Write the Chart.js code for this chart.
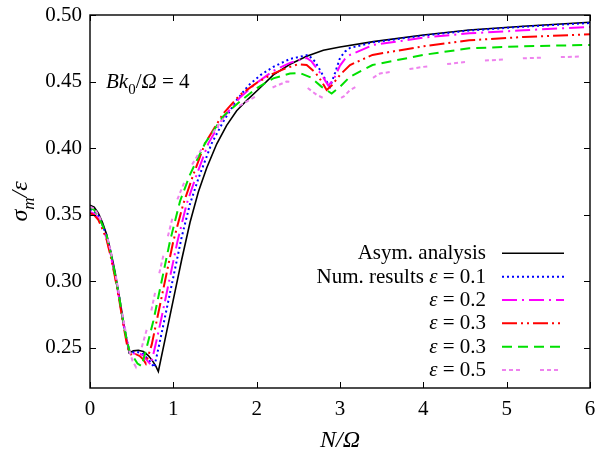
<!DOCTYPE html>
<html>
<head>
<meta charset="utf-8">
<script src="https://cdn.jsdelivr.net/npm/chart.js@4.4.1/dist/chart.umd.min.js"></script>
<style>
  html, body { margin: 0; padding: 0; background: #fff; }
</style>
</head>
<body>
<canvas id="sigma" width="595" height="451"></canvas>
<script>
// values
const asymX = [0,0.05,0.1,0.15,0.2,0.25,0.3,0.35,0.4,0.44,0.47,0.52,0.58,0.64,0.70,0.75,0.79,0.82,0.9,1.0,1.1,1.2,1.3,1.4,1.52,1.64,1.76,1.9,2.02,2.2,2.4,2.6,2.8,3.0,3.4,4.0,4.55,5.2,6]
const asymY = [0.357,0.3555,0.351,0.344,0.335,0.322,0.307,0.289,0.270,0.256,0.246,0.2475,0.248,0.247,0.244,0.240,0.236,0.232,0.256,0.286,0.316,0.344,0.367,0.385,0.403,0.417,0.428,0.437,0.444,0.455,0.463,0.469,0.4735,0.476,0.480,0.485,0.4887,0.4915,0.4945]

const eps1X = [0,0.05,0.1,0.15,0.2,0.25,0.3,0.35,0.4,0.44,0.48,0.52,0.58,0.64,0.70,0.74,0.77,0.83,0.89,0.99,1.1,1.2,1.3,1.46,1.6,1.76,1.9,2.05,2.2,2.4,2.62,2.7,2.76,2.82,2.88,2.94,3.0,3.06,3.12,3.4,4.0,4.55,5.2,6]
const eps1Y = [0.354,0.3525,0.349,0.342,0.334,0.321,0.305,0.288,0.269,0.256,0.2455,0.2465,0.2465,0.245,0.241,0.238,0.235,0.252,0.27,0.30,0.333,0.358,0.377,0.4035,0.420,0.436,0.447,0.455,0.461,0.467,0.470,0.465,0.4586,0.452,0.446,0.4564,0.4677,0.4725,0.4752,0.4795,0.4845,0.4883,0.4912,0.494]

const eps2X = [0,0.05,0.1,0.15,0.2,0.25,0.3,0.35,0.4,0.44,0.49,0.53,0.58,0.64,0.69,0.73,0.79,0.85,0.95,1.05,1.16,1.28,1.42,1.6,1.8,2.0,2.2,2.4,2.6,2.66,2.72,2.79,2.86,2.92,3.0,3.06,3.12,3.4,4.0,4.55,5.2,6]
const eps2Y = [0.352,0.3505,0.347,0.340,0.332,0.319,0.304,0.287,0.268,0.255,0.244,0.2455,0.246,0.244,0.240,0.237,0.253,0.27,0.30,0.33,0.358,0.38,0.4035,0.423,0.438,0.449,0.458,0.464,0.4677,0.465,0.460,0.454,0.447,0.451,0.462,0.467,0.470,0.4775,0.483,0.4862,0.4885,0.491]

const eps3X = [0,0.05,0.1,0.15,0.2,0.25,0.3,0.35,0.4,0.45,0.5,0.55,0.6,0.64,0.67,0.74,0.80,0.90,1.0,1.12,1.24,1.38,1.6,1.8,2.0,2.2,2.35,2.5,2.6,2.7,2.77,2.84,2.9,3.0,3.12,3.39,4.0,4.55,5.2,6]
const eps3Y = [0.351,0.3495,0.346,0.339,0.331,0.318,0.303,0.286,0.267,0.250,0.244,0.245,0.2435,0.241,0.238,0.252,0.27,0.30,0.33,0.358,0.38,0.4035,0.426,0.440,0.449,0.456,0.460,0.463,0.4625,0.457,0.451,0.4436,0.447,0.455,0.4624,0.470,0.4765,0.481,0.4835,0.4855]

const eps4X = [0,0.05,0.1,0.15,0.2,0.25,0.3,0.35,0.4,0.44,0.48,0.52,0.57,0.62,0.68,0.76,0.86,0.96,1.08,1.2,1.38,1.6,1.8,2.0,2.2,2.4,2.52,2.65,2.78,2.9,3.0,3.12,3.39,4.0,4.55,5.2,6]
const eps4Y = [0.355,0.3535,0.349,0.342,0.334,0.321,0.305,0.288,0.269,0.256,0.246,0.243,0.238,0.236,0.25,0.27,0.30,0.33,0.36,0.38,0.4035,0.424,0.435,0.445,0.4524,0.456,0.4564,0.453,0.446,0.441,0.446,0.4536,0.4624,0.470,0.475,0.4765,0.4775]

const eps5X = [0,0.05,0.1,0.15,0.2,0.25,0.3,0.35,0.4,0.44,0.47,0.51,0.55,0.62,0.71,0.81,0.92,1.04,1.2,1.38,1.6,1.8,2.12,2.36,2.54,2.72,2.85,2.93,3.05,3.12,3.39,3.48,4.0,4.55,5.2,6]
const eps5Y = [0.356,0.3545,0.350,0.343,0.335,0.322,0.307,0.290,0.271,0.258,0.248,0.240,0.2355,0.25,0.27,0.30,0.33,0.36,0.385,0.4035,0.422,0.432,0.4436,0.450,0.4486,0.440,0.436,0.435,0.439,0.4436,0.4526,0.456,0.461,0.465,0.4675,0.469]

const xTicks = [0, 1, 2, 3, 4, 5, 6]
const yTicks = [0.25, 0.30, 0.35, 0.40, 0.45, 0.50]

const SERIF = '"Liberation Serif", "Times New Roman", serif'

const pts = (xs, ys) => xs.map((x, i) => ({ x: x, y: ys[i] }))

// legend rows: text pieces (it = italic)
const legendRows = [
  [{ t: 'Asym. analysis' }],
  [{ t: 'Num. results ' }, { t: 'ε', it: true }, { t: ' = 0.1' }],
  [{ t: 'ε', it: true }, { t: ' = 0.2' }],
  [{ t: 'ε', it: true }, { t: ' = 0.3' }],
  [{ t: 'ε', it: true }, { t: ' = 0.3' }],
  [{ t: 'ε', it: true }, { t: ' = 0.5' }]
]

function fontFor(p, size) {
  const s = p.sub ? Math.round(size * 0.72) : size
  return (p.it ? 'italic ' : '') + s + 'px ' + SERIF
}

function drawRich(ctx, parts, x, y, size, align) {
  let w = 0
  parts.forEach(p => { ctx.font = fontFor(p, size); w += ctx.measureText(p.t).width })
  let cx = align === 'right' ? x - w : align === 'center' ? x - w / 2 : x
  parts.forEach(p => {
    ctx.font = fontFor(p, size)
    ctx.fillText(p.t, cx, y + (p.sub ? size * 0.3 : 0))
    cx += ctx.measureText(p.t).width
  })
}

// chart.js reserves room for edge labels; the frame must sit at fixed pixels
const noPad = s => { s.paddingLeft = 0; s.paddingRight = 0; s.paddingTop = 0; s.paddingBottom = 0 }

const decorations = {
  id: 'decorations',
  afterDraw(chart) {
    const { ctx, chartArea: a, scales: { x, y } } = chart
    ctx.save()
    ctx.strokeStyle = '#000'
    ctx.lineWidth = 1
    ctx.setLineDash([])
    ctx.beginPath()
    xTicks.forEach(v => {
      const px = Math.round(x.getPixelForValue(v)) + 0.5
      ctx.moveTo(px, a.bottom); ctx.lineTo(px, a.bottom - 6)
      ctx.moveTo(px, a.top); ctx.lineTo(px, a.top + 6)
    })
    yTicks.forEach(v => {
      const py = Math.round(y.getPixelForValue(v)) + 0.5
      ctx.moveTo(a.left, py); ctx.lineTo(a.left + 6, py)
      ctx.moveTo(a.right, py); ctx.lineTo(a.right - 6, py)
    })
    ctx.stroke()
    ctx.lineWidth = 1.4
    ctx.strokeRect(a.left, a.top, a.right - a.left, a.bottom - a.top)

    ctx.fillStyle = '#000'
    ctx.textBaseline = 'alphabetic'

    // legend
    chart.data.datasets.forEach((ds, i) => {
      const ly = 253.3 + i * 23.35
      drawRich(ctx, legendRows[i], 486, ly + 6, 21, 'right')
      ctx.save()
      ctx.strokeStyle = ds.borderColor
      ctx.lineWidth = ds.borderWidth
      ctx.setLineDash(ds.borderDash || [])
      ctx.beginPath()
      ctx.moveTo(502, ly); ctx.lineTo(564, ly)
      ctx.stroke()
      ctx.restore()
    })

    // annotation
    drawRich(ctx, [{ t: 'Bk', it: true }, { t: '0', sub: true }, { t: '/' }, { t: 'Ω', it: true }, { t: ' = 4' }], 106, 88, 21, 'left')

    // axis titles
    drawRich(ctx, [{ t: 'N', it: true }, { t: '/', it: true }, { t: 'Ω', it: true }], (a.left + a.right) / 2, 447, 24, 'center')
    ctx.translate(27, (a.top + a.bottom) / 2)
    ctx.rotate(-Math.PI / 2)
    drawRich(ctx, [{ t: 'σ', it: true }, { t: 'm', it: true, sub: true }, { t: '/', it: true }, { t: 'ε', it: true }], 0, 0, 24, 'center')
    ctx.restore()
  }
}

new Chart(document.getElementById('sigma'), {
  type: 'line',
  data: {
    datasets: [
      { label: 'Asym. analysis', data: pts(asymX, asymY), borderColor: '#000000', borderWidth: 1.6, order: 6 },
      { label: 'Num. results ε = 0.1', data: pts(eps1X, eps1Y), borderColor: '#0000ff', borderWidth: 2, borderDash: [2, 3], order: 5 },
      { label: 'ε = 0.2', data: pts(eps2X, eps2Y), borderColor: '#ff00ff', borderWidth: 2, borderDash: [15, 5, 2, 5], order: 4 },
      { label: 'ε = 0.3', data: pts(eps3X, eps3Y), borderColor: '#ff0000', borderWidth: 2, borderDash: [15, 4, 2, 4, 2, 4], order: 3 },
      { label: 'ε = 0.3', data: pts(eps4X, eps4Y), borderColor: '#00e000', borderWidth: 2, borderDash: [10, 6], order: 2 },
      { label: 'ε = 0.5', data: pts(eps5X, eps5Y), borderColor: '#ee82ee', borderWidth: 2, borderDash: [4, 3, 4, 3, 4, 20], order: 1 }
    ]
  },
  options: {
    responsive: false,
    animation: false,
    elements: { point: { radius: 0 }, line: { tension: 0, fill: false } },
    layout: { padding: { top: 15, right: 5, left: 0, bottom: 0 } },
    plugins: { legend: { display: false }, tooltip: { enabled: false } },
    scales: {
      x: {
        type: 'linear',
        min: 0,
        max: 6,
        grid: { display: false, drawTicks: false },
        border: { display: false },
        afterBuildTicks: s => { s.ticks = xTicks.map(v => ({ value: v })) },
        afterFit: s => { s.height = 63; noPad(s) },
        ticks: {
          padding: 9,
          color: '#000',
          font: { family: SERIF, size: 21 },
          callback: v => String(v)
        }
      },
      y: {
        min: 0.2196,
        max: 0.5,
        grid: { display: false, drawTicks: false },
        border: { display: false },
        afterBuildTicks: s => { s.ticks = yTicks.map(v => ({ value: v })) },
        afterFit: s => { s.width = 90; noPad(s) },
        ticks: {
          padding: 8,
          color: '#000',
          font: { family: SERIF, size: 21 },
          callback: v => v.toFixed(2)
        }
      }
    }
  },
  plugins: [decorations]
})
</script>
</body>
</html>
